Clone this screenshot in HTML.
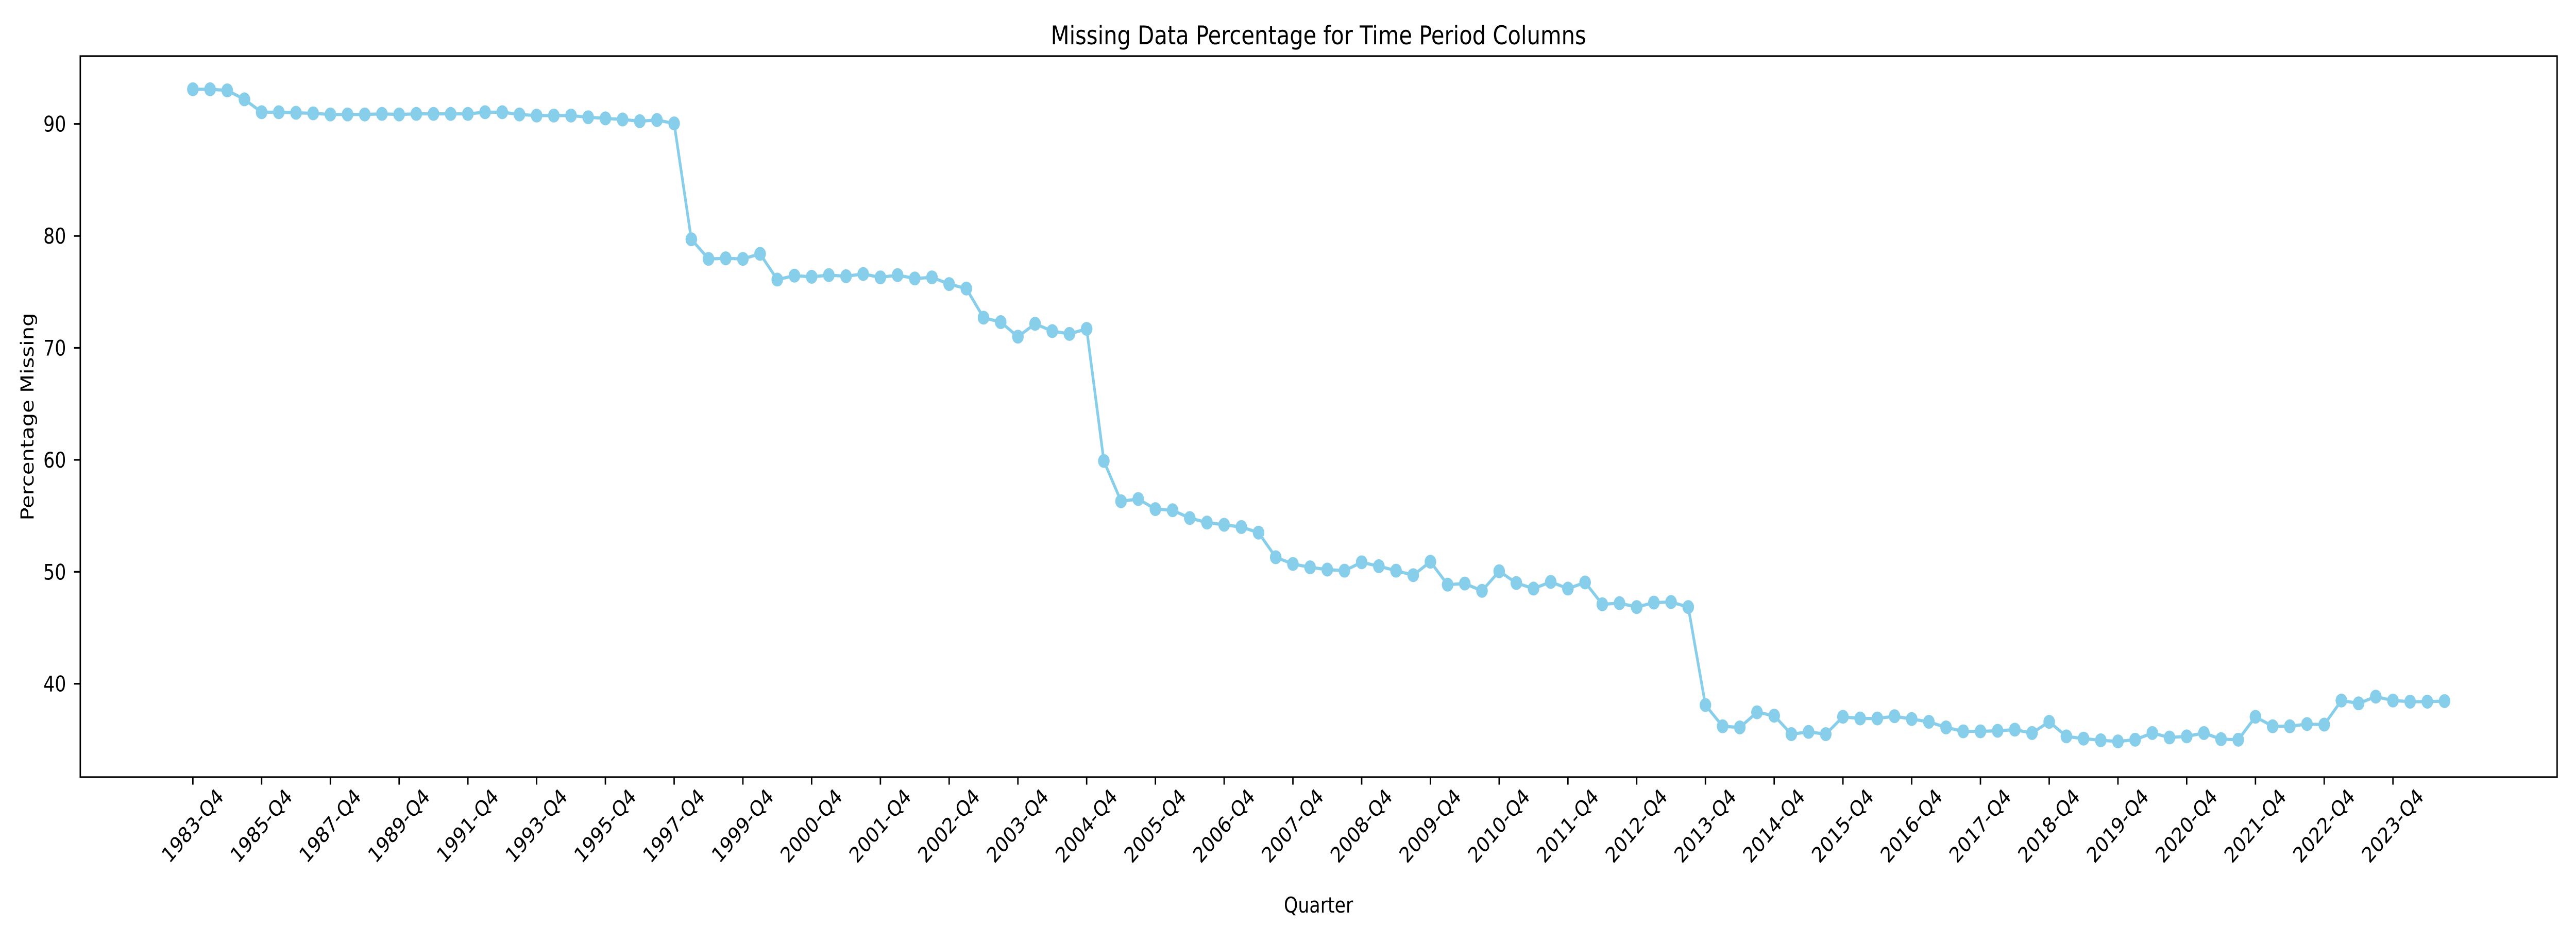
<!DOCTYPE html>
<html><head><meta charset="utf-8"><title>Missing Data Percentage</title>
<style>
html,body{margin:0;padding:0;background:#fff;overflow:hidden;width:100%;height:100%;}
svg{display:block;width:100vw;height:100vh;font-family:"DejaVu Sans","Liberation Sans",sans-serif;}
</style></head>
<body>
<svg id="chart" viewBox="0 0 6000 1800" preserveAspectRatio="none" xmlns="http://www.w3.org/2000/svg">
<rect x="0" y="0" width="6000" height="1800" fill="#fff"/>
<text x="3071" y="86" font-size="50" text-anchor="middle" fill="#000">Missing Data Percentage for Time Period Columns</text>
<text x="3071" y="1772" font-size="41.7" text-anchor="middle" fill="#000">Quarter</text>
<text x="0" y="0" font-size="41.7" text-anchor="middle" fill="#000" transform="translate(78,809) rotate(-90)">Percentage Missing</text>
<g id="plot"></g>
<g id="yaxis"></g>
<g id="xaxis"></g>
<rect x="187" y="109" width="5769" height="1400" fill="none" stroke="#000" stroke-width="3.3"/>
</svg>
<script>
const values = [93.1,93.1,93.0,92.2,91.05,91.05,91.0,90.95,90.85,90.85,90.85,90.9,90.85,90.9,90.9,90.9,90.9,91.05,91.05,90.85,90.75,90.75,90.75,90.6,90.5,90.4,90.25,90.35,90.05,79.7,77.95,78.0,77.95,78.4,76.1,76.45,76.35,76.5,76.4,76.6,76.3,76.5,76.2,76.3,75.7,75.3,72.7,72.3,71.0,72.15,71.5,71.25,71.7,59.9,56.3,56.5,55.6,55.5,54.8,54.4,54.2,54.0,53.5,51.3,50.7,50.4,50.2,50.1,50.85,50.5,50.1,49.7,50.9,48.85,48.95,48.3,50.05,49.0,48.5,49.1,48.5,49.05,47.1,47.2,46.85,47.25,47.3,46.85,38.1,36.2,36.1,37.45,37.15,35.5,35.7,35.5,37.05,36.9,36.9,37.1,36.85,36.6,36.1,35.75,35.75,35.8,35.9,35.6,36.6,35.3,35.1,34.95,34.85,35.0,35.6,35.2,35.3,35.6,35.05,35.0,37.05,36.2,36.2,36.4,36.35,38.5,38.25,38.85,38.5,38.4,38.4,38.45];
const xTickLabels = ["1983-Q4","1985-Q4","1987-Q4","1989-Q4","1991-Q4","1993-Q4","1995-Q4","1997-Q4","1999-Q4","2000-Q4","2001-Q4","2002-Q4","2003-Q4","2004-Q4","2005-Q4","2006-Q4","2007-Q4","2008-Q4","2009-Q4","2010-Q4","2011-Q4","2012-Q4","2013-Q4","2014-Q4","2015-Q4","2016-Q4","2017-Q4","2018-Q4","2019-Q4","2020-Q4","2021-Q4","2022-Q4","2023-Q4"];
const yTicks = [40,50,60,70,80,90];
const tickEvery = 4;

const NS = "http://www.w3.org/2000/svg";
const L=187,R=5956,T=109,B=1509;
const n = values.length;
const pad = (n-1)*0.05;
const xmin=-pad, xmax=(n-1)+pad;
const ymin=31.66, ymax=96.06;
function xs(i){return L+(i-xmin)/(xmax-xmin)*(R-L);}
function ys(v){return B-(v-ymin)/(ymax-ymin)*(B-T);}
function mk(tag,attrs,parent){const e=document.createElementNS(NS,tag);for(const k in attrs)e.setAttribute(k,attrs[k]);parent.appendChild(e);return e;}

const plot=document.getElementById('plot');
const line=mk('polyline',{points:values.map((v,i)=>xs(i)+','+ys(v)).join(' '),fill:'none',stroke:'#87CEEB','stroke-width':6.25,'stroke-linejoin':'round'},plot);


values.forEach((v,i)=>{
  const c=mk('circle',{cx:xs(i),cy:ys(v),r:13.5,fill:'#87CEEB'},plot);
  
  
});

const ya=document.getElementById('yaxis');
yTicks.forEach(t=>{
  const y=ys(t);
  const tk=mk('line',{x1:L,x2:L-14.6,y1:y,y2:y,stroke:'#000','stroke-width':3.3},ya);
  
  
  const tx=mk('text',{x:L-33,y:y+15,'font-size':41.7,'text-anchor':'end',fill:'#000'},ya);
  tx.textContent=t;
  
  
});

const xa=document.getElementById('xaxis');
xTickLabels.forEach((lab,k)=>{
  const x=xs(k*tickEvery);
  const tk=mk('line',{x1:x,x2:x,y1:B,y2:B+14.6,stroke:'#000','stroke-width':3.3},xa);
  
  
  const tx=mk('text',{x:0,y:0,'font-size':41.7,'text-anchor':'middle','dominant-baseline':'central',fill:'#000',transform:'translate('+x+','+(B+95)+') rotate(-45)'},xa);
  tx.textContent=lab;
  
  
});
</script>
</body></html>
